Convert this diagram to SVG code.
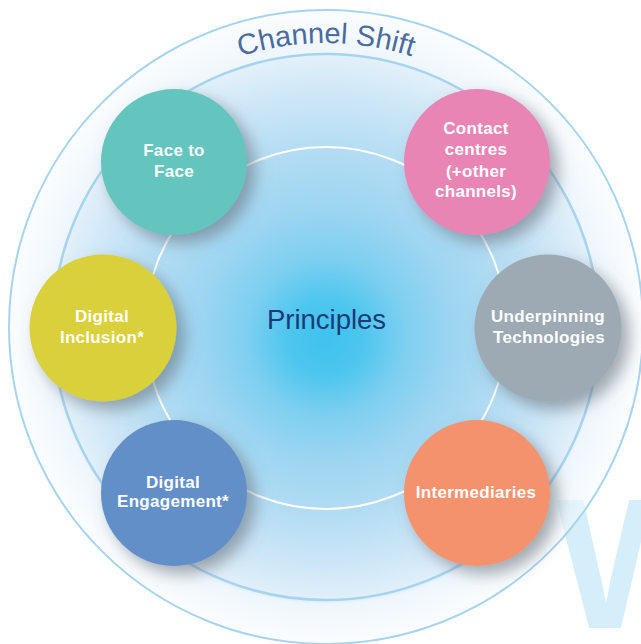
<svg xmlns="http://www.w3.org/2000/svg" width="641" height="644" viewBox="0 0 641 644">
  <defs>
    <radialGradient id="bg" gradientUnits="userSpaceOnUse" cx="326" cy="327" r="317" fx="326" fy="340">
      <stop offset="0" stop-color="#3EC2EE"/>
      <stop offset="0.12" stop-color="#4EC6EE"/>
      <stop offset="0.25" stop-color="#7ECFF0"/>
      <stop offset="0.4" stop-color="#9DD5F1"/>
      <stop offset="0.57" stop-color="#B2DCF3"/>
      <stop offset="0.75" stop-color="#CFE7F7"/>
      <stop offset="0.86" stop-color="#E2F0FA"/>
      <stop offset="0.87" stop-color="#EEF6FC"/>
      <stop offset="1" stop-color="#FBFDFF"/>
    </radialGradient>
    <filter id="shadow" x="-30%" y="-30%" width="170%" height="170%">
      <feDropShadow dx="8" dy="8" stdDeviation="8" flood-color="#5F6670" flood-opacity="0.55"/>
    </filter>
    <!-- the big letter is solid outside the rings and faint where it crosses them -->
    <mask id="letterMask" maskUnits="userSpaceOnUse" x="0" y="0" width="641" height="644">
      <rect width="641" height="644" fill="#FFFFFF"/>
      <circle cx="326" cy="327" r="318" fill="#8C8C8C"/>
    </mask>
    <path id="arc" d="M 42 327 A 284 284 0 0 1 610 327"/>
    <style>
      .ring { fill: none; stroke: #A6D4EF; }
      .node circle { filter: url(#shadow); }
      .label { font-family: "Liberation Sans", Arial, sans-serif; font-weight: bold; font-size: 17px; fill: #FFFFFF; text-anchor: middle; letter-spacing: 0.3px; }
      .title { font-family: "Liberation Sans", Arial, sans-serif; font-size: 29px; fill: #4A6B9F; }
      .centre { font-family: "Liberation Sans", Arial, sans-serif; font-size: 27.5px; fill: #1A3A7A; text-anchor: middle; }
    </style>
  </defs>

  <rect width="641" height="644" fill="#FFFFFF"/>

  <!-- concentric rings -->
  <g id="rings">
    <circle cx="326" cy="327" r="317" fill="url(#bg)"/>
    <!-- large background letter, bottom right -->
    <text x="556" y="628" font-family="'Liberation Sans', Arial, sans-serif" font-weight="bold" font-size="186" fill="#D6EEFA" mask="url(#letterMask)">W</text>
    <circle class="ring" cx="326" cy="327" r="317" stroke-width="2"/>
    <circle class="ring" cx="326" cy="327" r="273" stroke-width="2.5"/>
    <circle cx="326" cy="328" r="181" fill="none" stroke="#FFFFFF" stroke-width="2"/>
  </g>

  <text class="title"><textPath href="#arc" startOffset="50%" text-anchor="middle">Channel Shift</textPath></text>

  <g id="principles">
    <text class="centre" x="326.5" y="329">Principles</text>
  </g>

  <g id="connectors"></g>

  <g id="face-to-face" class="node">
    <circle cx="174" cy="162" r="73" fill="#63C5BE"/>
    <text class="label" x="174" y="156">Face to</text>
    <text class="label" x="174" y="177">Face</text>
  </g>

  <g id="contact-centres" class="node">
    <circle cx="477" cy="162" r="73" fill="#E985B4"/>
    <text class="label" x="476" y="134">Contact</text>
    <text class="label" x="476" y="155">centres</text>
    <text class="label" x="476" y="177">(+other</text>
    <text class="label" x="476" y="197">channels)</text>
  </g>

  <g id="digital-inclusion" class="node">
    <circle cx="103" cy="328" r="73.5" fill="#D9D03B"/>
    <text class="label" x="102" y="322">Digital</text>
    <text class="label" x="102" y="343">Inclusion*</text>
  </g>

  <g id="underpinning-technologies" class="node">
    <circle cx="548" cy="328" r="73.5" fill="#9DA9B3"/>
    <text class="label" x="548" y="322">Underpinning</text>
    <text class="label" x="549" y="343">Technologies</text>
  </g>

  <g id="digital-engagement" class="node">
    <circle cx="174" cy="493" r="73" fill="#628FC8"/>
    <text class="label" x="173" y="488">Digital</text>
    <text class="label" x="173" y="507">Engagement*</text>
  </g>

  <g id="intermediaries" class="node">
    <circle cx="477" cy="493" r="73" fill="#F5926E"/>
    <text class="label" x="476" y="498">Intermediaries</text>
  </g>
</svg>
